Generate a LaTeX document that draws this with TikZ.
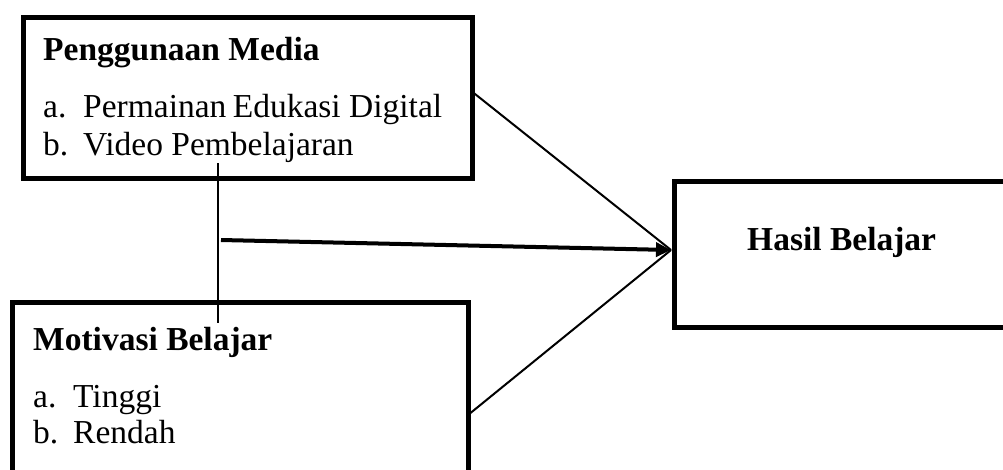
\documentclass[tikz,border=0pt]{standalone}
\usepackage{fontspec}
\setmainfont{Liberation Serif}
\usetikzlibrary{arrows.meta}
\begin{document}
\begin{tikzpicture}[x=1pt,y=-1pt,
  boxframe/.style={draw=black,line width=5pt,rectangle,inner sep=0pt,anchor=north west},
  txt/.style={anchor=base west,inner sep=0pt,font=\fontsize{33.5}{38}\selectfont},
  btxt/.style={txt,font=\fontsize{33.5}{38}\selectfont\bfseries},
  conn/.style={draw=black,line width=2pt},
  arr/.style={draw=black,line width=4pt,-{Triangle[length=15pt,width=14pt]}}]
\useasboundingbox (0,0) rectangle (1003,469);
\clip (0,0) rectangle (1003,469);
\fill[white] (0,0) rectangle (1003,469);
% boxes
\node[boxframe,minimum width=449.5pt,minimum height=161pt] (media) at (20.5,15) {};
\node[boxframe,minimum width=455.5pt,minimum height=200pt] (motiv) at (10,300) {};
\node[boxframe,minimum width=360pt,minimum height=146pt] (hasil) at (671.5,178.5) {};
% texts
\node[btxt] (t1) at (43,60) {Penggunaan Media};
\node[txt] (t1a) at (43,117) {a.};
\node[txt] (t1at) at (83,117) {Permainan\hspace{-2pt} Edukasi Digital};
\node[txt] (t1b) at (43,155) {b.};
\node[txt] (t1bt) at (83,155) {Video Pembelajaran};
\node[btxt] (t2) at (33,350) {Motivasi Belajar};
\node[txt] (t2a) at (33,407) {a.};
\node[txt] (t2at) at (73,407) {Tinggi};
\node[txt] (t2b) at (33,443) {b.};
\node[txt] (t2bt) at (73,443) {Rendah};
\node[btxt] (t3) at (747,250) {Hasil Belajar};
% connector coordinates
\coordinate (vtop) at (218.3,163);
\coordinate (vbot) at (218.3,323);
\coordinate (astart) at (221,240);
\coordinate (tip) at (671,250);
\coordinate (m1) at (472.5,92);
\coordinate (m2) at (468,415);
% connectors
\draw[conn] (vtop) -- (vbot);
\draw[conn] (m1) -- (tip);
\draw[conn] (m2) -- (tip);
\draw[arr] (astart) -- (tip);
\end{tikzpicture}
\end{document}
